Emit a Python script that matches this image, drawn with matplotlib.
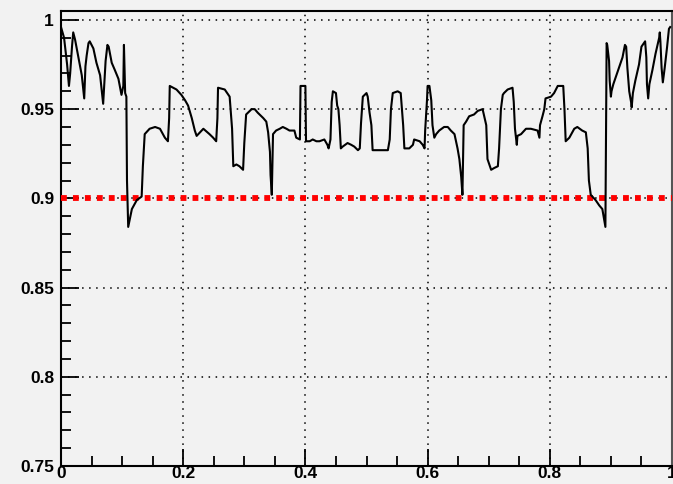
import matplotlib
matplotlib.use("Agg")
import matplotlib.pyplot as plt
from matplotlib.ticker import MultipleLocator, FixedLocator, FixedFormatter

# Curve data (x in [0,1], efficiency-like y)
x_vals = [0.000, 0.005, 0.010, 0.013, 0.015, 0.018, 0.020, 0.023, 0.028, 0.034,
          0.038, 0.040, 0.042, 0.045, 0.047, 0.053, 0.058, 0.064, 0.069, 0.071,
          0.073, 0.076, 0.078, 0.083, 0.088, 0.094, 0.099, 0.102, 0.103, 0.105,
          0.107, 0.108, 0.110, 0.116, 0.124, 0.132, 0.134, 0.137, 0.145, 0.154,
          0.162, 0.170, 0.175, 0.177, 0.178, 0.189, 0.197, 0.203, 0.208, 0.214,
          0.219, 0.222, 0.233, 0.243, 0.249, 0.254, 0.256, 0.257, 0.268, 0.276,
          0.280, 0.282, 0.287, 0.292, 0.298, 0.300, 0.303, 0.312, 0.317, 0.322,
          0.331, 0.336, 0.339, 0.342, 0.343, 0.345, 0.347, 0.352, 0.358, 0.363,
          0.369, 0.374, 0.382, 0.385, 0.391, 0.392, 0.400, 0.401, 0.407, 0.412,
          0.418, 0.423, 0.431, 0.436, 0.438, 0.441, 0.443, 0.445, 0.450, 0.452,
          0.454, 0.456, 0.458, 0.461, 0.469, 0.475, 0.480, 0.486, 0.489, 0.491,
          0.494, 0.497, 0.500, 0.502, 0.505, 0.508, 0.510, 0.513, 0.535, 0.538,
          0.540, 0.543, 0.551, 0.556, 0.558, 0.560, 0.562, 0.570, 0.576, 0.578,
          0.587, 0.592, 0.595, 0.596, 0.599, 0.600, 0.603, 0.606, 0.608, 0.611,
          0.614, 0.619, 0.627, 0.633, 0.638, 0.644, 0.649, 0.652, 0.655, 0.657,
          0.659, 0.663, 0.668, 0.676, 0.682, 0.690, 0.696, 0.698, 0.704, 0.709,
          0.715, 0.717, 0.720, 0.723, 0.725, 0.731, 0.739, 0.741, 0.743, 0.746,
          0.747, 0.753, 0.761, 0.769, 0.780, 0.783, 0.784, 0.788, 0.791, 0.793,
          0.802, 0.807, 0.813, 0.822, 0.824, 0.826, 0.832, 0.840, 0.845, 0.853,
          0.859, 0.862, 0.864, 0.867, 0.875, 0.881, 0.886, 0.889, 0.891, 0.892,
          0.893, 0.894, 0.897, 0.898, 0.900, 0.901, 0.904, 0.908, 0.913, 0.919,
          0.923, 0.925, 0.927, 0.930, 0.933, 0.934, 0.936, 0.940, 0.946, 0.950,
          0.954, 0.956, 0.958, 0.959, 0.961, 0.963, 0.968, 0.973, 0.979, 0.980,
          0.981, 0.983, 0.985, 0.988, 0.992, 0.995, 0.997]
y_vals = [0.996, 0.990, 0.975, 0.963, 0.970, 0.985, 0.993, 0.989, 0.980, 0.969,
          0.956, 0.974, 0.980, 0.987, 0.988, 0.984, 0.976, 0.969, 0.953, 0.965,
          0.977, 0.986, 0.985, 0.976, 0.972, 0.967, 0.958, 0.963, 0.986, 0.959,
          0.957, 0.910, 0.884, 0.894, 0.899, 0.901, 0.918, 0.936, 0.939, 0.940,
          0.939, 0.934, 0.932, 0.945, 0.963, 0.961, 0.958, 0.955, 0.952, 0.945,
          0.938, 0.935, 0.939, 0.936, 0.934, 0.932, 0.945, 0.962, 0.961, 0.957,
          0.939, 0.918, 0.919, 0.918, 0.916, 0.931, 0.947, 0.950, 0.950, 0.948,
          0.945, 0.943, 0.937, 0.926, 0.913, 0.902, 0.936, 0.938, 0.939, 0.940,
          0.939, 0.938, 0.938, 0.934, 0.933, 0.963, 0.963, 0.932, 0.932, 0.933,
          0.932, 0.932, 0.933, 0.930, 0.928, 0.933, 0.954, 0.960, 0.959, 0.952,
          0.950, 0.941, 0.928, 0.929, 0.931, 0.930, 0.929, 0.927, 0.928, 0.942,
          0.957, 0.958, 0.959, 0.957, 0.948, 0.941, 0.927, 0.927, 0.927, 0.933,
          0.950, 0.959, 0.960, 0.959, 0.950, 0.941, 0.928, 0.928, 0.930, 0.933,
          0.932, 0.930, 0.928, 0.938, 0.955, 0.963, 0.963, 0.955, 0.941, 0.934,
          0.936, 0.938, 0.940, 0.940, 0.938, 0.936, 0.928, 0.922, 0.912, 0.902,
          0.941, 0.943, 0.946, 0.947, 0.949, 0.950, 0.941, 0.922, 0.916, 0.917,
          0.918, 0.928, 0.950, 0.958, 0.959, 0.961, 0.962, 0.954, 0.939, 0.930,
          0.935, 0.936, 0.939, 0.939, 0.938, 0.934, 0.941, 0.946, 0.950, 0.956,
          0.957, 0.959, 0.963, 0.963, 0.950, 0.932, 0.934, 0.939, 0.940, 0.938,
          0.937, 0.928, 0.910, 0.902, 0.899, 0.896, 0.894, 0.888, 0.884, 0.935,
          0.987, 0.986, 0.977, 0.966, 0.957, 0.960, 0.964, 0.968, 0.973, 0.979,
          0.986, 0.985, 0.973, 0.960, 0.954, 0.951, 0.959, 0.966, 0.975, 0.985,
          0.987, 0.988, 0.979, 0.964, 0.956, 0.964, 0.972, 0.981, 0.990, 0.993,
          0.988, 0.973, 0.965, 0.973, 0.985, 0.995, 0.996]

threshold = 0.9
x_major = [0.0, 0.2, 0.4, 0.6, 0.8, 1.0]
x_labels = ["0", "0.2", "0.4", "0.6", "0.8", "1"]
y_major = [0.75, 0.80, 0.85, 0.90, 0.95, 1.0]
y_labels = ["0.75", "0.8", "0.85", "0.9", "0.95", "1"]

bg = "#f2f2f2"
fig = plt.figure(figsize=(6.73, 4.84), dpi=100, facecolor=bg)
ax = fig.add_axes([61 / 673, 18 / 484, 611 / 673, 455 / 484], facecolor=bg)

ax.set_xlim(0, 1)
ax.set_ylim(0.75, 1.005)

ax.xaxis.set_major_locator(FixedLocator(x_major))
ax.xaxis.set_major_formatter(FixedFormatter(x_labels))
ax.yaxis.set_major_locator(FixedLocator(y_major))
ax.yaxis.set_major_formatter(FixedFormatter(y_labels))
ax.xaxis.set_minor_locator(MultipleLocator(0.05))
ax.yaxis.set_minor_locator(MultipleLocator(0.01))
ax.grid(True, which="major", color="black", linestyle=(0, (1.0, 3.6)), linewidth=1.1)
ax.set_axisbelow(True)

ax.axhline(threshold, color="#ff0000", linewidth=4.2, linestyle=(0, (1.0, 1.05)),
           dash_capstyle="butt", zorder=3)
ax.plot(x_vals, y_vals, color="black", linewidth=1.5, zorder=4)

for s in ax.spines.values():
    s.set_linewidth(1.5)
ax.spines["right"].set_color("#555555")

ax.tick_params(which="major", direction="in", length=12, width=1.3,
               top=False, right=False, labelsize=12.5)
ax.tick_params(axis="y", which="major", length=13, pad=5)
ax.tick_params(axis="x", which="major", pad=0)
ax.tick_params(which="minor", direction="in", length=7, width=1.3,
               top=False, right=False)
for lab in ax.get_xticklabels() + ax.get_yticklabels():
    lab.set_fontfamily("Liberation Sans")
    lab.set_fontweight("bold")

fig.savefig("out.png", dpi=100, facecolor=bg)
